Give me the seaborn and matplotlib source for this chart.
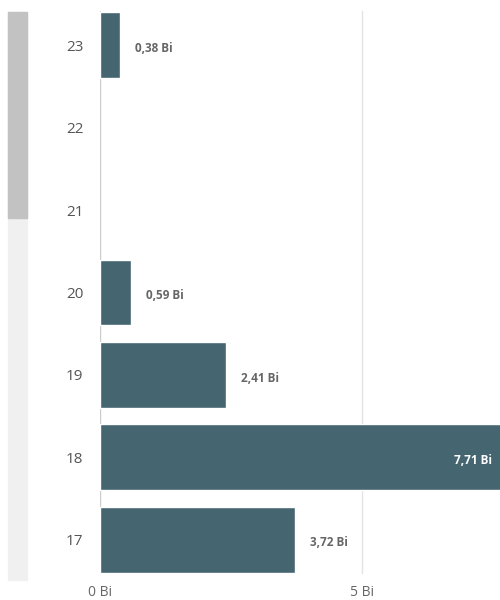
import numpy as np
import pandas as pd
import matplotlib.pyplot as plt
import seaborn as sns
from matplotlib.patches import Rectangle

# values (billions)
hours = ["23", "22", "21", "20", "19", "18", "17"]
values = [0.38, np.nan, np.nan, 0.59, 2.41, 7.71, 3.72]
labels = ["0,38 Bi", "", "", "0,59 Bi", "2,41 Bi", "7,71 Bi", "3,72 Bi"]
xticks = [0, 5]
xticklabels = ["0 Bi", "5 Bi"]

df = pd.DataFrame({"hour": hours, "value": values, "label": labels})

sns.set_style("white")
plt.rcParams["font.family"] = ["Open Sans", "DejaVu Sans"]

fig = plt.figure(figsize=(5, 6), dpi=100)
ax = fig.add_axes([0.2, 0.032, 0.8, 0.961])

sns.barplot(data=df, y="hour", x="value", order=hours, orient="h",
            color="#456570", saturation=1, width=0.8, ax=ax, zorder=3)

xmax = 400 / 52.4
ax.set_xlim(0, xmax)
ax.set_xticks(xticks)
ax.set_xticklabels(xticklabels)
ax.set_xlabel("")
ax.set_ylabel("")
# short grid lines, like the reference
for t in xticks:
    ax.axvline(t, ymin=0.014, ymax=0.988, color="#e3e3e3" if t else "#cccccc",
               linewidth=1, zorder=1)
ax.tick_params(axis="y", length=0, pad=12, labelsize=11, labelcolor="#555555")
ax.tick_params(axis="x", length=0, pad=3, labelsize=10, labelcolor="#666666")

for s in ["top", "right", "bottom", "left"]:
    ax.spines[s].set_visible(False)

# data labels
for i, (v, lab) in enumerate(zip(values, labels)):
    if not lab:
        continue
    if v > xmax:
        ax.text(xmax - 0.15, i + 0.04, lab, ha="right", va="center",
                fontsize=8.5, fontweight="bold", color="white", zorder=4)
    else:
        ax.text(v + 0.28, i + 0.04, lab, ha="left", va="center",
                fontsize=8.5, fontweight="bold", color="#666666", zorder=4)

# scroll bar on the left
fig.patches.append(Rectangle((0.016, 0.033), 0.038, 0.947,
                             transform=fig.transFigure, color="#f0f0f0", zorder=0))
fig.patches.append(Rectangle((0.016, 0.637), 0.038, 0.343,
                             transform=fig.transFigure, color="#c2c2c2", zorder=1))

fig.savefig("out.png", dpi=100)
